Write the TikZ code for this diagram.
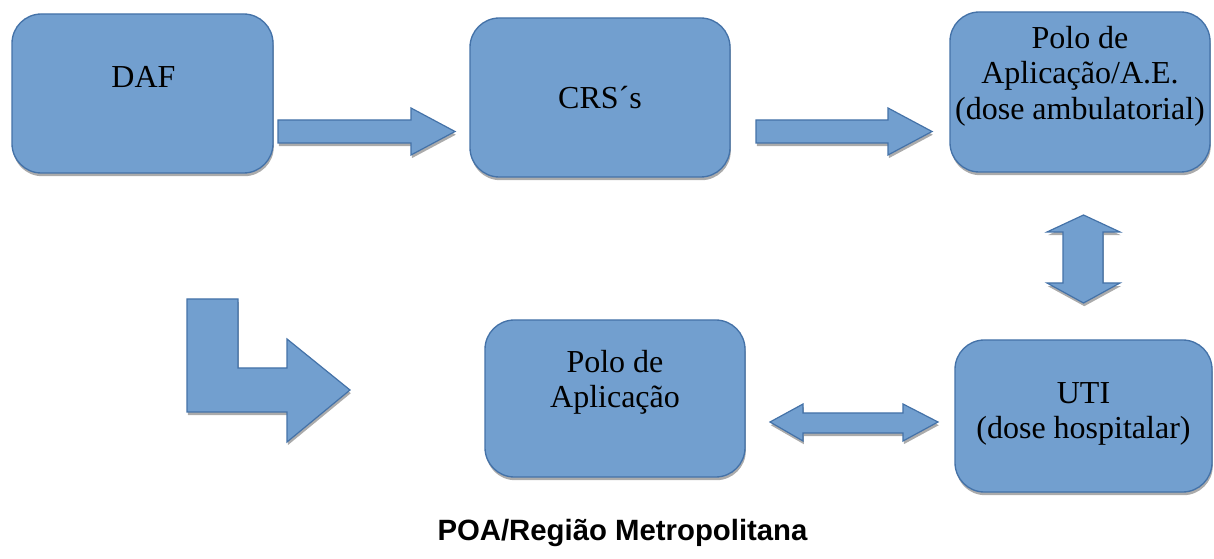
\documentclass[tikz,border=0pt]{standalone}
\usepackage{fontspec}
\setmainfont{Liberation Serif}
\newfontfamily\titlefont{Liberation Sans}
\usetikzlibrary{shadows}

\definecolor{boxfill}{RGB}{114,159,207}
\definecolor{boxline}{RGB}{68,114,168}

\begin{document}
\begin{tikzpicture}[x=0.75pt,y=-0.75pt,
        shade/.style={drop shadow={shadow xshift=0.6pt,shadow yshift=-2.4pt,opacity=0.6,fill=black!55}},
        stagebox/.style={draw=boxline,fill=boxfill,line width=1pt,rounded corners=22pt,shade},
        blockarrow/.style={draw=boxline,fill=boxfill,line width=0.9pt,line join=miter,shade},
        boxtext/.style={align=center,inner sep=0pt,font=\fontsize{24}{26.5}\selectfont}]
    \useasboundingbox (0,0) rectangle (1214,559);

    % top row
    \node[stagebox,minimum width=195.75pt,minimum height=119.25pt] (daf) at (142.5,93.5) {};
    \node[stagebox,minimum width=195pt,minimum height=119.25pt] (crs) at (600,97.5) {};
    \node[stagebox,minimum width=195pt,minimum height=120pt] (poloae) at (1080,92) {};

    % bottom row
    \node[stagebox,minimum width=195pt,minimum height=117.75pt] (polo) at (615,398.5) {};
    \node[stagebox,minimum width=192.75pt,minimum height=114pt] (uti) at (1083.5,416) {};

    \node[boxtext] (dafText) at (143.5,77) {DAF};
    \node[boxtext] (crsText) at (600,98) {CRS´s};
    \node[boxtext] (poloaeText) at (1080,76) {Polo de\\Aplicação/A.E.\\(dose ambulatorial)};
    \node[boxtext] (poloText) at (615,382) {Polo de\\Aplicação};
    \node[boxtext] (utiText) at (1083.5,414) {UTI\\(dose hospitalar)};

    % block arrows
    \draw[blockarrow] (278,120) -- (411,120) -- (411,108) -- (455,131.5)
        -- (411,155) -- (411,143) -- (278,143) -- cycle;
    \draw[blockarrow] (756,120) -- (888,120) -- (888,108) -- (932,131.5)
        -- (888,155) -- (888,143) -- (756,143) -- cycle;
    \draw[blockarrow] (1083.5,215) -- (1120,232) -- (1103,232) -- (1103,283)
        -- (1120,283) -- (1083.5,303) -- (1047,283) -- (1063,283)
        -- (1063,232) -- (1047,232) -- cycle;
    \draw[blockarrow] (770,422) -- (803,404) -- (803,413) -- (903,413)
        -- (903,404) -- (938,422) -- (903,441) -- (903,433)
        -- (803,433) -- (803,441) -- cycle;
    \draw[blockarrow] (187,299) -- (238,299) -- (238,368) -- (287,368)
        -- (287,339) -- (350,390) -- (287,442) -- (287,412) -- (187,412) -- cycle;

    \node[anchor=base,inner sep=0pt,font=\titlefont\bfseries\fontsize{22}{24}\selectfont]
        (title) at (622.5,540) {POA/Região Metropolitana};
\end{tikzpicture}
\end{document}
